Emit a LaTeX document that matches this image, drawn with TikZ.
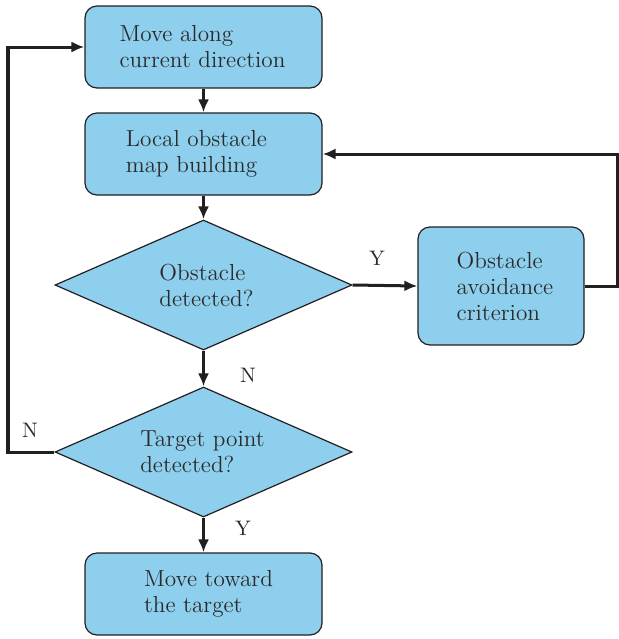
\documentclass[tikz,border=0pt]{standalone}
\usetikzlibrary{shapes.geometric,arrows.meta}
\definecolor{boxfill}{HTML}{8ECFED}
\definecolor{linec}{HTML}{231F20}
\definecolor{txt}{HTML}{2A2A2A}
\begin{document}
\begin{tikzpicture}[x=0.5pt,y=-0.5pt,
  txtlbl/.style={align=left, text=txt, font=\fontsize{11.6}{13}\selectfont, inner sep=0pt},
  procbox/.style={draw=linec, line width=0.6pt, fill=boxfill, rounded corners=6pt,
    minimum width=118.5pt, minimum height=41pt, inner sep=0pt},
  decision/.style={diamond, shape aspect=2.28, draw=linec, line width=0.6pt, fill=boxfill,
    minimum width=148.5pt, minimum height=65pt, inner sep=0pt},
  flow/.style={draw=linec, line width=1.5pt, -{Latex[length=6.5pt,width=5.5pt]}},
  lbl/.style={text=txt, font=\fontsize{10.5}{12}\selectfont, inner sep=0pt}]
\useasboundingbox (0,0) rectangle (619,639);
\node[procbox, label={[txtlbl, xshift=-0.5pt]center:{Move along\\current direction}}] (b1) at (203.5,47) {};
\node[procbox, label={[txtlbl, xshift=-3.5pt]center:{Local obstacle\\map building}}] (b2) at (203.5,154) {};
\node[decision, label={[txtlbl, xshift=1.5pt]center:{Obstacle\\detected?}}] (d1) at (203.5,285) {};
\node[procbox, minimum width=83pt, minimum height=59pt, label={[txtlbl, xshift=2pt]center:{Obstacle\\avoidance\\criterion}}] (b3) at (501,286) {};
\node[decision, label={[txtlbl, xshift=-0.5pt]center:{Target point\\detected?}}] (d2) at (203.5,452) {};
\node[procbox, label={[txtlbl, xshift=2.5pt]center:{Move toward\\the target}}] (b4) at (203.5,594) {};
\coordinate (rr) at (617,154);
\coordinate (ll) at (8,47);
\draw[flow] (b1) -- (b2);
\draw[flow] (b2) -- (d1);
\draw[flow] (d1.east) -- (b3.west);
\draw[flow] (b3.east) -| (rr) -- (b2.east |- rr);
\draw[flow] (d1) -- (d2);
\draw[flow] (d2.west) -| (ll) -- (b1.west);
\draw[flow] (d2) -- (b4);
\node[lbl] (ly1) at (377,258) {Y};
\node[lbl] (ln1) at (248,375) {N};
\node[lbl] (ln2) at (30,430) {N};
\node[lbl] (ly2) at (243,528) {Y};
\end{tikzpicture}
\end{document}
